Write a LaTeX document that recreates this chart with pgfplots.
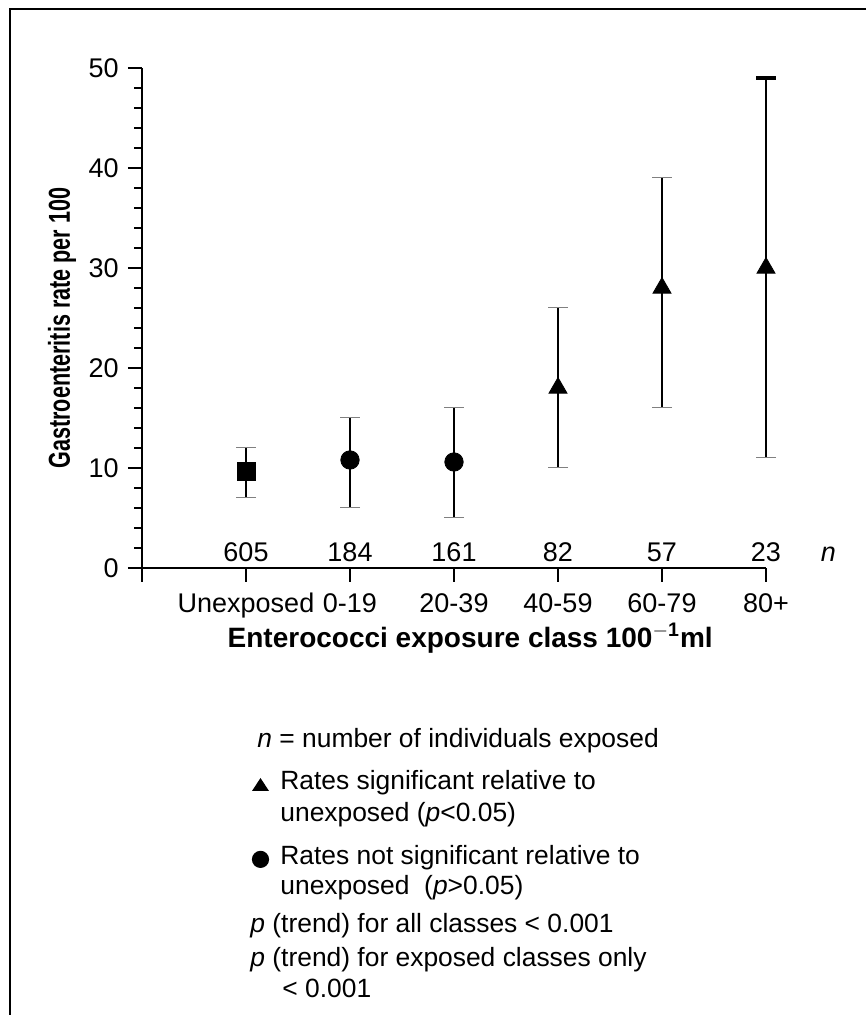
\documentclass[border=0pt]{standalone}
\usepackage{fontspec}
\setmainfont{Liberation Sans}
\usepackage{graphicx}
\usepackage{pgfplots}
\pgfplotsset{compat=1.18}

\begin{document}
\fontsize{13.5}{16}\selectfont
\begin{tikzpicture}
% page area and frame
\useasboundingbox (0,0) rectangle (433pt,507.5pt);
\draw[line width=1pt] (433pt,503pt) -- (5pt,503pt) -- (5pt,0pt);

\begin{axis}[
  at={(71pt,223.5pt)}, anchor=south west,
  scale only axis, width=312pt, height=250pt,
  xmin=-1, xmax=5, ymin=0, ymax=50,
  clip=false,
  axis x line*=bottom, axis y line*=left,
  axis line style={-, line width=0.9pt},
  xtick={-1,0,...,5},
  xticklabels={,Unexposed,0-19,20-39,40-59,60-79,80+},
  ytick={0,10,...,50},
  minor ytick={2,4,...,48},
  tick align=outside,
  major tick length=7pt, minor tick length=4pt,
  every tick/.style={black, line width=0.8pt},
  /pgf/number format/assume math mode=true,
  tick label style={font=\fontsize{13.5}{16}\selectfont},
  xticklabel style={yshift=-1pt},
  xlabel={\textbf{Enterococci exposure class 100$^{\mathbf{-1}}$ml}},
  xlabel style={at={(axis description cs:0.526,-0.14)}, anchor=center, font=\fontsize{14}{16}\selectfont},
  ylabel={\scalebox{0.8}[1.12]{\textbf{Gastroenteritis rate per 100}}},
  ylabel style={at={(axis description cs:-0.128,0.48)}, anchor=center, font=\fontsize{13.5}{16}\selectfont},
  error bars/error bar style={line width=1pt, black},
  error bars/error mark options={line width=0.5pt, gray, mark size=5pt, rotate=90},
]
% unexposed reference group
\addplot[only marks, mark=square*, mark size=4.5pt, black,
  error bars/.cd, y dir=both, y explicit]
  coordinates {(0,9.7) += (0,2.3) -= (0,2.7)};
% exposed, not significant
\addplot[only marks, mark=*, mark size=4.6pt, black,
  error bars/.cd, y dir=both, y explicit]
  coordinates {
    (1,10.8) += (0,4.2) -= (0,4.8)
    (2,10.6) += (0,5.4) -= (0,5.6)
  };
% exposed, significant
\addplot[only marks, mark=triangle*, mark size=5.2pt, black,
  error bars/.cd, y dir=both, y explicit]
  coordinates {
    (3,18) += (0,8) -= (0,8)
    (4,28) += (0,11) -= (0,12)
    (5,30) += (0,19) -= (0,19)
  };
% heavier cap on the top class
\addplot[draw=none, mark=none, forget plot,
  error bars/.cd, y dir=plus, y explicit,
  error bar style={draw=black, line width=1pt},
  error mark options={line width=1.6pt, black, mark size=5pt, rotate=90}]
  coordinates {(5,30) += (0,19)};

% group sizes
\node[anchor=base] at (axis cs:0,0.6) {605};
\node[anchor=base] at (axis cs:1,0.6) {184};
\node[anchor=base] at (axis cs:2,0.6) {161};
\node[anchor=base] at (axis cs:3,0.6) {82};
\node[anchor=base] at (axis cs:4,0.6) {57};
\node[anchor=base] at (axis cs:5,0.6) {23};
\node[anchor=base] at (axis cs:5.6,0.6) {\textit{n}};
\end{axis}

% key
\begin{scope}[every node/.style={anchor=base west, inner sep=0pt, font=\fontsize{13.2}{16}\selectfont}]
\node at (128.5pt,133.5pt) {\textit{n} = number of individuals exposed};
\fill[black] (126pt,112pt) -- (134.5pt,112pt) -- (130.25pt,118.5pt) -- cycle;
\node at (140pt,112.5pt) {Rates significant relative to};
\node at (140pt,96.5pt) {unexposed (\textit{p}<0.05)};
\fill[black] (130.25pt,77.8pt) circle (4.3pt);
\node at (140pt,75pt) {Rates not significant relative to};
\node at (140pt,60pt) {unexposed \ (\textit{p}>0.05)};
\node at (125pt,41pt) {\textit{p} (trend) for all classes < 0.001};
\node at (125pt,24pt) {\textit{p} (trend) for exposed classes only};
\node at (141pt,9pt) {< 0.001};
\end{scope}
\end{tikzpicture}
\end{document}
